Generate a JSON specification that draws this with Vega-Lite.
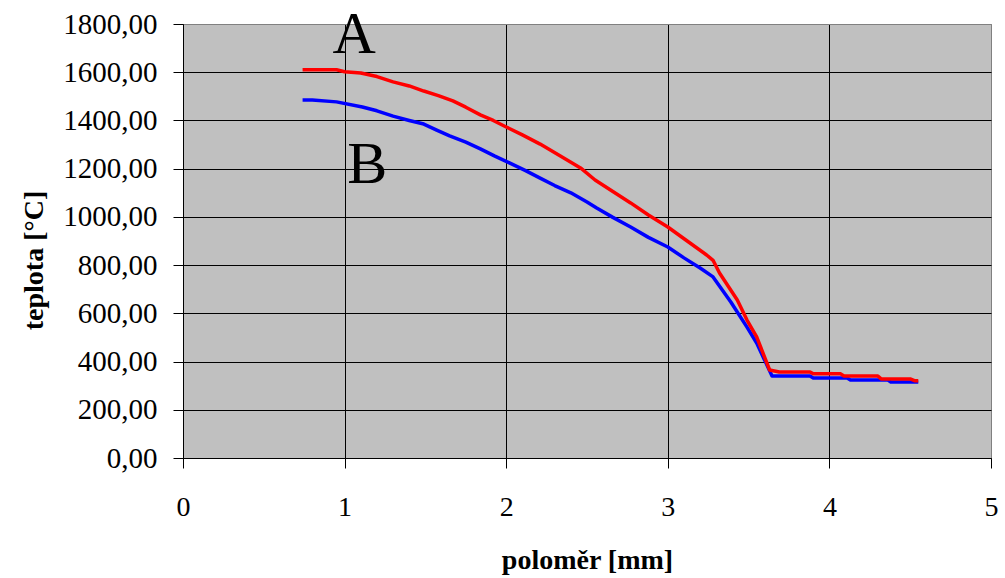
{
  "$schema": "https://vega.github.io/schema/vega-lite/v6.json",
  "width": 808,
  "height": 434,
  "autosize": {"type": "none"},
  "padding": {"left": 183, "top": 24, "right": 14, "bottom": 120},
  "background": "white",
  "config": {
    "view": {"fill": "#C0C0C0", "stroke": "#808080", "strokeWidth": 1},
    "font": "Liberation Serif",
    "axis": {
      "domainColor": "black",
      "domainWidth": 1,
      "tickColor": "black",
      "tickSize": 10,
      "tickWidth": 1,
      "labelFont": "Liberation Serif",
      "labelFontSize": 28,
      "labelColor": "black",
      "labelFlush": false,
      "labelOverlap": false,
      "titleFont": "Liberation Serif",
      "titleFontWeight": "bold",
      "titleFontSize": 28,
      "titleColor": "black",
      "grid": true,
      "gridOpacity": 1,
      "gridWidth": 1
    }
  },
  "datasets": {
    "curves": [
      {"series": "B", "r": 0.74, "t": 1485},
      {"series": "B", "r": 0.80, "t": 1485},
      {"series": "B", "r": 0.95, "t": 1477},
      {"series": "B", "r": 1.11, "t": 1456},
      {"series": "B", "r": 1.20, "t": 1440},
      {"series": "B", "r": 1.30, "t": 1418},
      {"series": "B", "r": 1.40, "t": 1400},
      {"series": "B", "r": 1.49, "t": 1385},
      {"series": "B", "r": 1.57, "t": 1360},
      {"series": "B", "r": 1.65, "t": 1336},
      {"series": "B", "r": 1.75, "t": 1310},
      {"series": "B", "r": 1.84, "t": 1282},
      {"series": "B", "r": 1.93, "t": 1252},
      {"series": "B", "r": 2.02, "t": 1224},
      {"series": "B", "r": 2.12, "t": 1192},
      {"series": "B", "r": 2.21, "t": 1161},
      {"series": "B", "r": 2.30, "t": 1130},
      {"series": "B", "r": 2.40, "t": 1100},
      {"series": "B", "r": 2.50, "t": 1062},
      {"series": "B", "r": 2.56, "t": 1037},
      {"series": "B", "r": 2.66, "t": 998},
      {"series": "B", "r": 2.77, "t": 958},
      {"series": "B", "r": 2.88, "t": 915},
      {"series": "B", "r": 3.00, "t": 875},
      {"series": "B", "r": 3.10, "t": 830},
      {"series": "B", "r": 3.20, "t": 788},
      {"series": "B", "r": 3.28, "t": 751},
      {"series": "B", "r": 3.39, "t": 647},
      {"series": "B", "r": 3.49, "t": 543},
      {"series": "B", "r": 3.55, "t": 477},
      {"series": "B", "r": 3.645, "t": 340},
      {"series": "B", "r": 3.88, "t": 340},
      {"series": "B", "r": 3.90, "t": 332},
      {"series": "B", "r": 4.11, "t": 332},
      {"series": "B", "r": 4.13, "t": 324},
      {"series": "B", "r": 4.36, "t": 324},
      {"series": "B", "r": 4.38, "t": 315},
      {"series": "B", "r": 4.55, "t": 315},
      {"series": "A", "r": 0.74, "t": 1610},
      {"series": "A", "r": 0.95, "t": 1610},
      {"series": "A", "r": 1.00, "t": 1602},
      {"series": "A", "r": 1.10, "t": 1597},
      {"series": "A", "r": 1.20, "t": 1582},
      {"series": "A", "r": 1.30, "t": 1560},
      {"series": "A", "r": 1.40, "t": 1543},
      {"series": "A", "r": 1.49, "t": 1522},
      {"series": "A", "r": 1.58, "t": 1503},
      {"series": "A", "r": 1.67, "t": 1481},
      {"series": "A", "r": 1.75, "t": 1455},
      {"series": "A", "r": 1.84, "t": 1423},
      {"series": "A", "r": 1.92, "t": 1400},
      {"series": "A", "r": 2.00, "t": 1373},
      {"series": "A", "r": 2.10, "t": 1340},
      {"series": "A", "r": 2.21, "t": 1302},
      {"series": "A", "r": 2.33, "t": 1255},
      {"series": "A", "r": 2.46, "t": 1203},
      {"series": "A", "r": 2.55, "t": 1153},
      {"series": "A", "r": 2.66, "t": 1105},
      {"series": "A", "r": 2.77, "t": 1058},
      {"series": "A", "r": 2.88, "t": 1008},
      {"series": "A", "r": 3.00, "t": 958},
      {"series": "A", "r": 3.12, "t": 900},
      {"series": "A", "r": 3.24, "t": 842},
      {"series": "A", "r": 3.28, "t": 820},
      {"series": "A", "r": 3.32, "t": 767},
      {"series": "A", "r": 3.43, "t": 655},
      {"series": "A", "r": 3.49, "t": 572},
      {"series": "A", "r": 3.55, "t": 502},
      {"series": "A", "r": 3.63, "t": 365},
      {"series": "A", "r": 3.69, "t": 357},
      {"series": "A", "r": 3.88, "t": 357},
      {"series": "A", "r": 3.90, "t": 349},
      {"series": "A", "r": 4.07, "t": 349},
      {"series": "A", "r": 4.09, "t": 340},
      {"series": "A", "r": 4.30, "t": 340},
      {"series": "A", "r": 4.32, "t": 328},
      {"series": "A", "r": 4.50, "t": 328},
      {"series": "A", "r": 4.53, "t": 320},
      {"series": "A", "r": 4.55, "t": 320}
    ],
    "labels": [
      {"label": "A", "r": 1.06, "t": 1680},
      {"label": "B", "r": 1.14, "t": 1141}
    ]
  },
  "encoding": {
    "x": {
      "field": "r",
      "type": "quantitative",
      "scale": {"domain": [0, 5], "nice": false, "zero": false},
      "axis": {
        "values": [0, 1, 2, 3, 4, 5],
        "format": "d",
        "labelPadding": 25,
        "title": "poloměr [mm]",
        "titleY": 110,
        "titleBaseline": "alphabetic",
        "gridColor": {"condition": {"test": "datum.value == 5", "value": "#808080"}, "value": "black"}
      }
    },
    "y": {
      "field": "t",
      "type": "quantitative",
      "scale": {"domain": [0, 1800], "nice": false},
      "axis": {
        "values": [0, 200, 400, 600, 800, 1000, 1200, 1400, 1600, 1800],
        "labelExpr": "replace(format(datum.value, '.2f'), '.', ',')",
        "labelFontSize": 29,
        "labelPadding": 16,
        "title": "teplota [°C]",
        "titleAngle": -90,
        "titleX": -141,
        "titleY": 236,
        "titleAlign": "center",
        "titleBaseline": "alphabetic",
        "gridColor": {"condition": {"test": "datum.value == 1800", "value": "#808080"}, "value": "black"}
      }
    }
  },
  "layer": [
    {
      "data": {"name": "curves"},
      "transform": [{"filter": "datum.series == 'B'"}],
      "mark": {"type": "line", "strokeWidth": 3.5, "strokeJoin": "round", "strokeCap": "butt"},
      "encoding": {
        "color": {"field": "series", "type": "nominal", "scale": {"domain": ["A", "B"], "range": ["#FF0000", "#0000FF"]}, "legend": null}
      }
    },
    {
      "data": {"name": "curves"},
      "transform": [{"filter": "datum.series == 'A'"}],
      "mark": {"type": "line", "strokeWidth": 3.5, "strokeJoin": "round", "strokeCap": "butt"},
      "encoding": {
        "color": {"field": "series", "type": "nominal", "scale": {"domain": ["A", "B"], "range": ["#FF0000", "#0000FF"]}, "legend": null}
      }
    },
    {
      "data": {"name": "labels"},
      "mark": {"type": "text", "font": "Liberation Serif", "fontSize": 60, "align": "center", "baseline": "alphabetic", "color": "black"},
      "encoding": {
        "text": {"field": "label", "type": "nominal"}
      }
    }
  ]
}
